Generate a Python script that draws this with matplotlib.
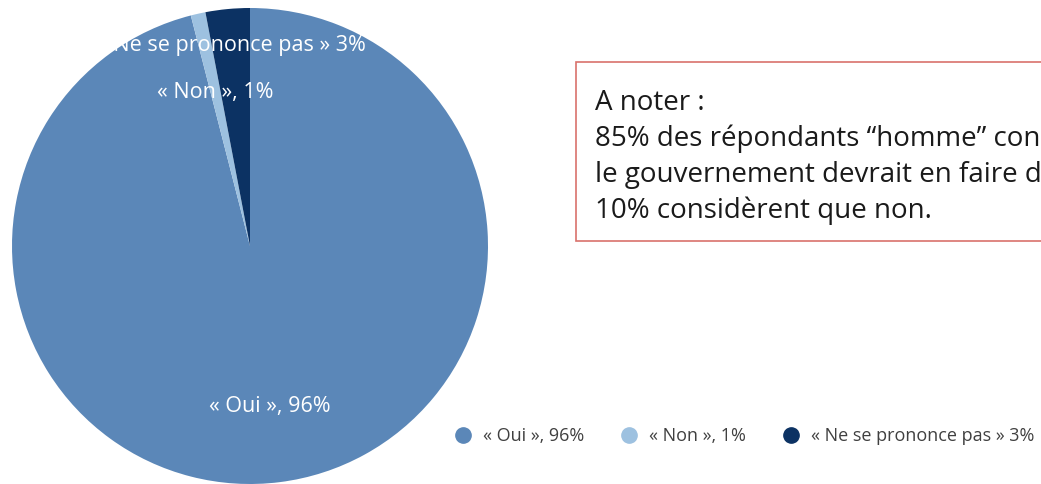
import numpy as np
import matplotlib
matplotlib.use("Agg")
import matplotlib.pyplot as plt
from matplotlib.lines import Line2D
from matplotlib.patches import Rectangle

plt.rcParams['font.family'] = ['Open Sans', 'DejaVu Sans']

categories = ["« Oui », 96%", "« Non », 1%", "« Ne se prononce pas » 3%"]
values = [96, 1, 3]
colors = ["#5b87b8", "#9dc1e0", "#0c3263"]
label_dist = [0.68, 0.66, 0.845]
note_lines = ["A noter :",
              "85% des répondants “homme” considèrent que",
              "le gouvernement devrait en faire davantage ;",
              "10% considèrent que non."]

W, H = 1041, 484
fig = plt.figure(figsize=(W / 100, H / 100), dpi=100)

cx, cy, r = 250, 246, 238
ax = fig.add_axes([(cx - r) / W, (H - cy - r) / H, 2 * r / W, 2 * r / H])
wedges, _ = ax.pie(values, colors=colors, startangle=90, counterclock=False,
                   radius=1.0, wedgeprops=dict(linewidth=0))
ax.set_xlim(-1, 1)
ax.set_ylim(-1, 1)
ax.set_aspect('equal')
ax.axis('off')

for w, lab, d in zip(wedges, categories, label_dist):
    ang = np.deg2rad((w.theta1 + w.theta2) / 2)
    ax.text(d * np.cos(ang), d * np.sin(ang), lab, ha='center', va='center',
            color='white', fontsize=15.5)

# note box
box = Rectangle((576 / W, 1 - 241 / H), (1200 - 576) / W, (241 - 62) / H,
                transform=fig.transFigure, facecolor='white',
                edgecolor='#d9726c', linewidth=1.2, clip_on=False)
fig.patches.append(box)
for i, line in enumerate(note_lines):
    fig.text(595 / W, 1 - (110 + i * 36) / H, line, ha='left', va='baseline',
             fontsize=20, color='#1a1a1a')

handles = [Line2D([], [], marker='o', linestyle='none', markersize=11,
                  markerfacecolor=c, markeredgecolor=c) for c in colors]
fig.legend(handles, categories, loc='center left',
           bbox_to_anchor=(454 / W, 1 - 436 / H), ncol=3, frameon=False,
           fontsize=13, handletextpad=0.6, columnspacing=2.0,
           borderaxespad=0, borderpad=0,
           labelcolor='#404040', handlelength=1.0)

fig.savefig("out.png", dpi=100)
